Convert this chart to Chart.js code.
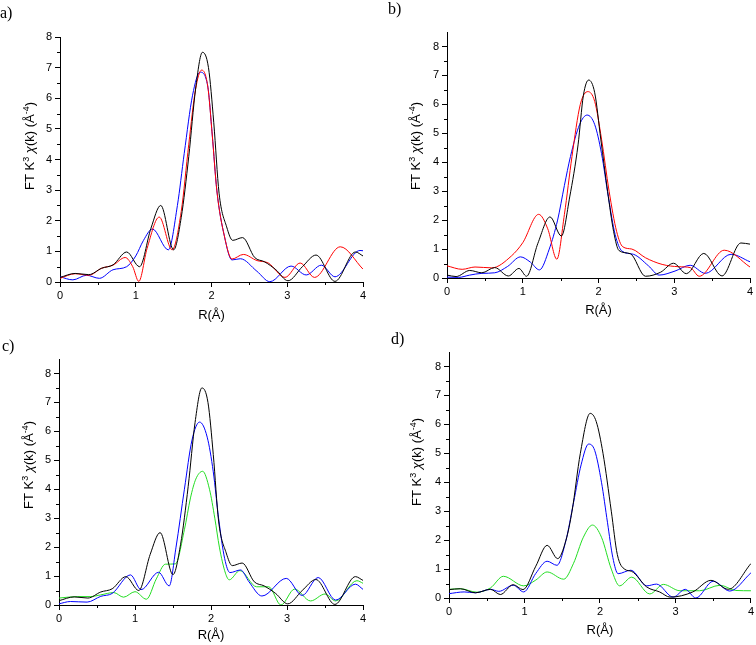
<!DOCTYPE html>
<html>
<head>
<meta charset="utf-8">
<script src="https://cdn.jsdelivr.net/npm/chart.js@4.4.0/dist/chart.umd.min.js"></script>
<style>
  html, body { margin: 0; padding: 0; background: #fff; }
  body { width: 756px; height: 645px; position: relative; overflow: hidden; }
  canvas { position: absolute; }
</style>
</head>
<body>
<canvas id="panelA" width="378" height="325" style="left:0;top:0"></canvas>
<canvas id="panelB" width="378" height="325" style="left:378px;top:0"></canvas>
<canvas id="panelC" width="378" height="320" style="left:0;top:325px"></canvas>
<canvas id="panelD" width="378" height="320" style="left:378px;top:325px"></canvas>
<script>
// R (Å) knots and FT magnitudes
const aBlackR = [0, 0.2, 0.38, 0.55, 0.7, 0.88, 1.05, 1.2, 1.33, 1.5, 1.6, 1.7, 1.79, 1.88, 1.96, 2.03, 2.1, 2.2, 2.28, 2.41, 2.57, 2.7, 2.85, 3.01, 3.2, 3.38, 3.63, 3.9, 4.0];
const aBlackY = [0.15, 0.28, 0.24, 0.45, 0.56, 0.98, 0.5, 1.75, 2.5, 1.05, 2.1, 4.1, 6.3, 7.5, 7.0, 5.2, 2.9, 1.8, 1.36, 1.45, 0.8, 0.66, 0.4, 0.04, 0.5, 0.88, 0.02, 0.98, 0.85];
const aRedR = [0, 0.2, 0.38, 0.55, 0.7, 0.86, 0.96, 1.04, 1.15, 1.31, 1.48, 1.6, 1.7, 1.79, 1.87, 1.95, 2.01, 2.07, 2.17, 2.27, 2.42, 2.6, 2.75, 2.97, 3.17, 3.36, 3.7, 4.0];
const aRedY = [0.12, 0.27, 0.22, 0.45, 0.55, 0.8, 0.5, 0.02, 1.1, 2.12, 1.05, 2.3, 4.5, 6.3, 6.92, 6.4, 4.8, 3.0, 1.5, 0.75, 0.9, 0.7, 0.62, 0.15, 0.62, 0.15, 1.15, 0.42];
const aBlueR = [0, 0.17, 0.35, 0.52, 0.7, 0.88, 1.0, 1.1, 1.22, 1.43, 1.55, 1.64, 1.75, 1.85, 1.95, 2.01, 2.07, 2.17, 2.27, 2.38, 2.6, 2.77, 3.05, 3.25, 3.45, 3.63, 3.96, 4.0];
const aBlueY = [0.17, 0.07, 0.22, 0.12, 0.4, 0.5, 0.85, 1.35, 1.73, 1.05, 2.5, 4.2, 6.1, 6.85, 6.4, 4.8, 3.0, 1.5, 0.72, 0.76, 0.35, 0.01, 0.52, 0.23, 0.55, 0.17, 1.03, 1.02];

const bBlackR = [0, 0.12, 0.3, 0.46, 0.63, 0.81, 0.95, 1.05, 1.2, 1.36, 1.51, 1.62, 1.73, 1.8, 1.87, 1.95, 2.03, 2.12, 2.2, 2.27, 2.42, 2.62, 2.82, 2.99, 3.16, 3.39, 3.63, 3.88, 4.0];
const bBlackY = [0.1, 0.05, 0.26, 0.18, 0.36, 0.07, 0.33, 0.06, 1.2, 2.11, 1.45, 2.8, 4.6, 6.3, 6.84, 6.4, 4.8, 3.0, 1.6, 0.95, 0.84, 0.06, 0.2, 0.51, 0.15, 0.85, 0.07, 1.21, 1.17];
const bRedR = [0, 0.2, 0.37, 0.59, 0.85, 1.0, 1.21, 1.33, 1.45, 1.55, 1.65, 1.76, 1.86, 1.95, 2.04, 2.14, 2.24, 2.32, 2.44, 2.62, 2.84, 3.06, 3.21, 3.33, 3.66, 4.0];
const bRedY = [0.42, 0.3, 0.38, 0.35, 0.76, 1.22, 2.2, 1.7, 0.65, 2.2, 4.2, 6.0, 6.44, 6.1, 4.8, 3.0, 1.6, 1.08, 1.0, 0.7, 0.47, 0.39, 0.36, 0.06, 0.96, 0.38];
const bBlueR = [0, 0.15, 0.3, 0.46, 0.63, 0.8, 0.97, 1.1, 1.22, 1.35, 1.46, 1.55, 1.63, 1.75, 1.85, 1.95, 2.04, 2.13, 2.22, 2.31, 2.46, 2.66, 2.8, 3.01, 3.21, 3.41, 3.75, 4.0];
const bBlueY = [0.03, 0.02, 0.1, 0.16, 0.18, 0.4, 0.73, 0.55, 0.28, 1.0, 2.0, 3.2, 4.2, 5.3, 5.63, 5.3, 4.3, 2.8, 1.5, 0.93, 0.82, 0.42, 0.1, 0.24, 0.44, 0.16, 0.82, 0.56];

// panel c repeats the black curve of panel a
const cBlackR = aBlackR;
const cBlackY = aBlackY;
const cBlueR = [0, 0.15, 0.37, 0.55, 0.7, 0.94, 1.08, 1.31, 1.45, 1.54, 1.65, 1.75, 1.85, 1.95, 2.03, 2.1, 2.18, 2.25, 2.39, 2.5, 2.67, 2.99, 3.2, 3.41, 3.64, 3.9, 4.0];
const cBlueY = [0.04, 0.12, 0.1, 0.3, 0.4, 1.04, 0.53, 1.13, 0.66, 2.0, 4.0, 5.7, 6.32, 5.8, 4.6, 3.0, 1.6, 1.12, 1.21, 0.8, 0.31, 0.92, 0.33, 0.95, 0.17, 0.72, 0.54];
const cGreenR = [0, 0.24, 0.41, 0.55, 0.72, 0.85, 1.0, 1.15, 1.28, 1.4, 1.53, 1.65, 1.73, 1.8, 1.89, 1.98, 2.05, 2.11, 2.19, 2.24, 2.38, 2.6, 2.76, 2.92, 3.1, 3.31, 3.5, 3.64, 3.92, 4.0];
const cGreenY = [0.24, 0.29, 0.29, 0.35, 0.43, 0.27, 0.46, 0.2, 0.9, 1.41, 1.42, 2.6, 3.7, 4.35, 4.62, 4.0, 3.0, 2.0, 1.1, 0.87, 1.19, 0.63, 0.63, 0.0, 0.55, 0.14, 0.38, 0.14, 0.84, 0.75];

const dBlackR = [0, 0.15, 0.35, 0.55, 0.68, 0.85, 0.98, 1.15, 1.3, 1.44, 1.55, 1.63, 1.74, 1.87, 1.95, 2.04, 2.15, 2.23, 2.33, 2.42, 2.62, 2.79, 2.93, 3.23, 3.47, 3.7, 4.0];
const dBlackY = [0.29, 0.32, 0.18, 0.3, 0.12, 0.46, 0.29, 1.1, 1.82, 1.36, 2.0, 3.0, 5.0, 6.38, 6.1, 5.0, 3.0, 1.5, 0.99, 0.92, 0.38, 0.21, 0.03, 0.21, 0.61, 0.3, 1.19];
const dBlueR = [0, 0.2, 0.35, 0.55, 0.66, 0.85, 0.99, 1.15, 1.3, 1.43, 1.55, 1.65, 1.75, 1.85, 1.93, 2.02, 2.1, 2.17, 2.24, 2.41, 2.62, 2.75, 2.97, 3.13, 3.27, 3.5, 3.72, 4.0];
const dBlueY = [0.15, 0.21, 0.18, 0.3, 0.23, 0.44, 0.21, 0.85, 1.27, 1.13, 2.0, 3.3, 4.6, 5.32, 5.1, 4.0, 2.6, 1.4, 0.84, 0.96, 0.42, 0.48, 0.03, 0.3, 0.0, 0.58, 0.24, 0.87];
const dGreenR = [0, 0.15, 0.37, 0.55, 0.72, 0.99, 1.15, 1.3, 1.52, 1.65, 1.78, 1.9, 2.02, 2.15, 2.26, 2.42, 2.66, 2.84, 3.06, 3.32, 3.59, 3.8, 4.0];
const dGreenY = [0.3, 0.32, 0.2, 0.35, 0.75, 0.42, 0.62, 0.9, 0.65, 1.2, 2.1, 2.52, 2.1, 1.0, 0.42, 0.72, 0.14, 0.47, 0.25, 0.25, 0.44, 0.26, 0.25];

const xTicks = [0, 1, 2, 3, 4];
const xTitle = 'R(Å)';

const BLACK = '#000000', RED = '#ff0000', BLUE = '#0000ff', GREEN = '#22dd22';
const SANS = '"Liberation Sans", Arial, sans-serif';

function line(rs, ys, color) {
    return {
        data: rs.map((r, i) => ({ x: r, y: ys[i] })),
        borderColor: color,
        borderWidth: 1,
        pointRadius: 0,
        fill: false,
        cubicInterpolationMode: 'monotone'
    };
}

// panel letter, rotated y title with superscripts, short minor ticks
const panelText = {
    id: 'panelText',
    afterDraw(chart, args, opts) {
        const ctx = chart.ctx;
        ctx.save();
        ctx.fillStyle = '#000';
        ctx.font = '16px "Liberation Serif", "Times New Roman", serif';
        ctx.textBaseline = 'middle';
        ctx.textAlign = 'left';
        ctx.fillText(opts.letter, opts.letterX, opts.letterY);

        const parts = [
            ['FT K', '13px ' + SANS, 0],
            ['3', '9px ' + SANS, -5],
            [' ', '13px ' + SANS, 0],
            ['χ', 'italic 13px ' + SANS, 0],
            ['(k) (Å', '13px ' + SANS, 0],
            ['-4', '9px ' + SANS, -5],
            [')', '13px ' + SANS, 0]
        ];
        let total = 0;
        parts.forEach(p => { ctx.font = p[1]; total += ctx.measureText(p[0]).width; });
        ctx.translate(opts.titleX, opts.titleY);
        ctx.rotate(-Math.PI / 2);
        ctx.textBaseline = 'alphabetic';
        let x = -total / 2;
        parts.forEach(p => {
            ctx.font = p[1];
            ctx.fillText(p[0], x, 5 + p[2]);
            x += ctx.measureText(p[0]).width;
        });
        ctx.restore();

        const xs = chart.scales.x, ys = chart.scales.y;
        ctx.save();
        ctx.strokeStyle = '#000';
        ctx.lineWidth = 1;
        ctx.beginPath();
        for (let v = 0.5; v < xs.max; v += 1) {
            const px = Math.round(xs.getPixelForValue(v)) + 0.5;
            ctx.moveTo(px, xs.top);
            ctx.lineTo(px, xs.top + 3);
        }
        for (let v = 0.5; v < ys.max; v += 1) {
            const py = Math.round(ys.getPixelForValue(v)) + 0.5;
            ctx.moveTo(ys.right, py);
            ctx.lineTo(ys.right - 3, py);
        }
        ctx.stroke();
        ctx.restore();
    }
};

function makePanel(id, datasets, c) {
    return new Chart(document.getElementById(id), {
        type: 'line',
        data: { datasets: datasets },
        plugins: [panelText],
        options: {
            responsive: false,
            animation: false,
            devicePixelRatio: 1,
            layout: { padding: { left: 0, top: c.top, right: c.right, bottom: 0 } },
            plugins: {
                legend: { display: false },
                tooltip: { enabled: false },
                panelText: c.text
            },
            scales: {
                x: {
                    type: 'linear',
                    min: 0,
                    max: 4,
                    afterFit: s => { s.height = c.xHeight; },
                    afterBuildTicks: s => { s.ticks = xTicks.map(v => ({ value: v })); },
                    grid: { display: true, drawOnChartArea: false, drawTicks: true, tickLength: 5, color: '#000' },
                    border: { display: true, color: '#000', width: 1 },
                    ticks: { color: '#000', padding: 2, font: { family: SANS, size: 11 }, maxRotation: 0 },
                    title: { display: true, text: xTitle, color: '#000', font: { family: SANS, size: 13 }, padding: { top: 0, bottom: c.xTitlePad } }
                },
                y: {
                    min: 0,
                    max: c.yMax,
                    afterFit: s => { s.width = c.yWidth; },
                    grid: { display: true, drawOnChartArea: false, drawTicks: true, tickLength: 5, color: '#000' },
                    border: { display: true, color: '#000', width: 1 },
                    ticks: { stepSize: 1, includeBounds: false, color: '#000', padding: 3, font: { family: SANS, size: 11 } }
                }
            }
        }
    });
}

makePanel('panelA', [line(aBlackR, aBlackY, BLACK), line(aRedR, aRedY, RED), line(aBlueR, aBlueY, BLUE)], {
    yMax: 8, yWidth: 60, top: 37, right: 15, xHeight: 43, xTitlePad: 2,
    text: { letter: 'a)', letterX: 0, letterY: 14, titleX: 29, titleY: 146 }
});
makePanel('panelB', [line(bBlackR, bBlackY, BLACK), line(bRedR, bRedY, RED), line(bBlueR, bBlueY, BLUE)], {
    yMax: 8.5, yWidth: 69, top: 32, right: 6, xHeight: 47, xTitlePad: 7,
    text: { letter: 'b)', letterX: 10, letterY: 10, titleX: 37, titleY: 146 }
});
makePanel('panelC', [line(cBlackR, cBlackY, BLACK), line(cBlueR, cBlueY, BLUE), line(cGreenR, cGreenY, GREEN)], {
    yMax: 8.5, yWidth: 59, top: 34, right: 15, xHeight: 40, xTitlePad: 2,
    text: { letter: 'c)', letterX: 2, letterY: 22, titleX: 28, titleY: 140 }
});
makePanel('panelD', [line(dBlackR, dBlackY, BLACK), line(dBlueR, dBlueY, BLUE), line(dGreenR, dGreenY, GREEN)], {
    yMax: 8.5, yWidth: 71, top: 27, right: 4, xHeight: 47, xTitlePad: 7,
    text: { letter: 'd)', letterX: 13, letterY: 15, titleX: 38, titleY: 137 }
});
</script>
</body>
</html>
